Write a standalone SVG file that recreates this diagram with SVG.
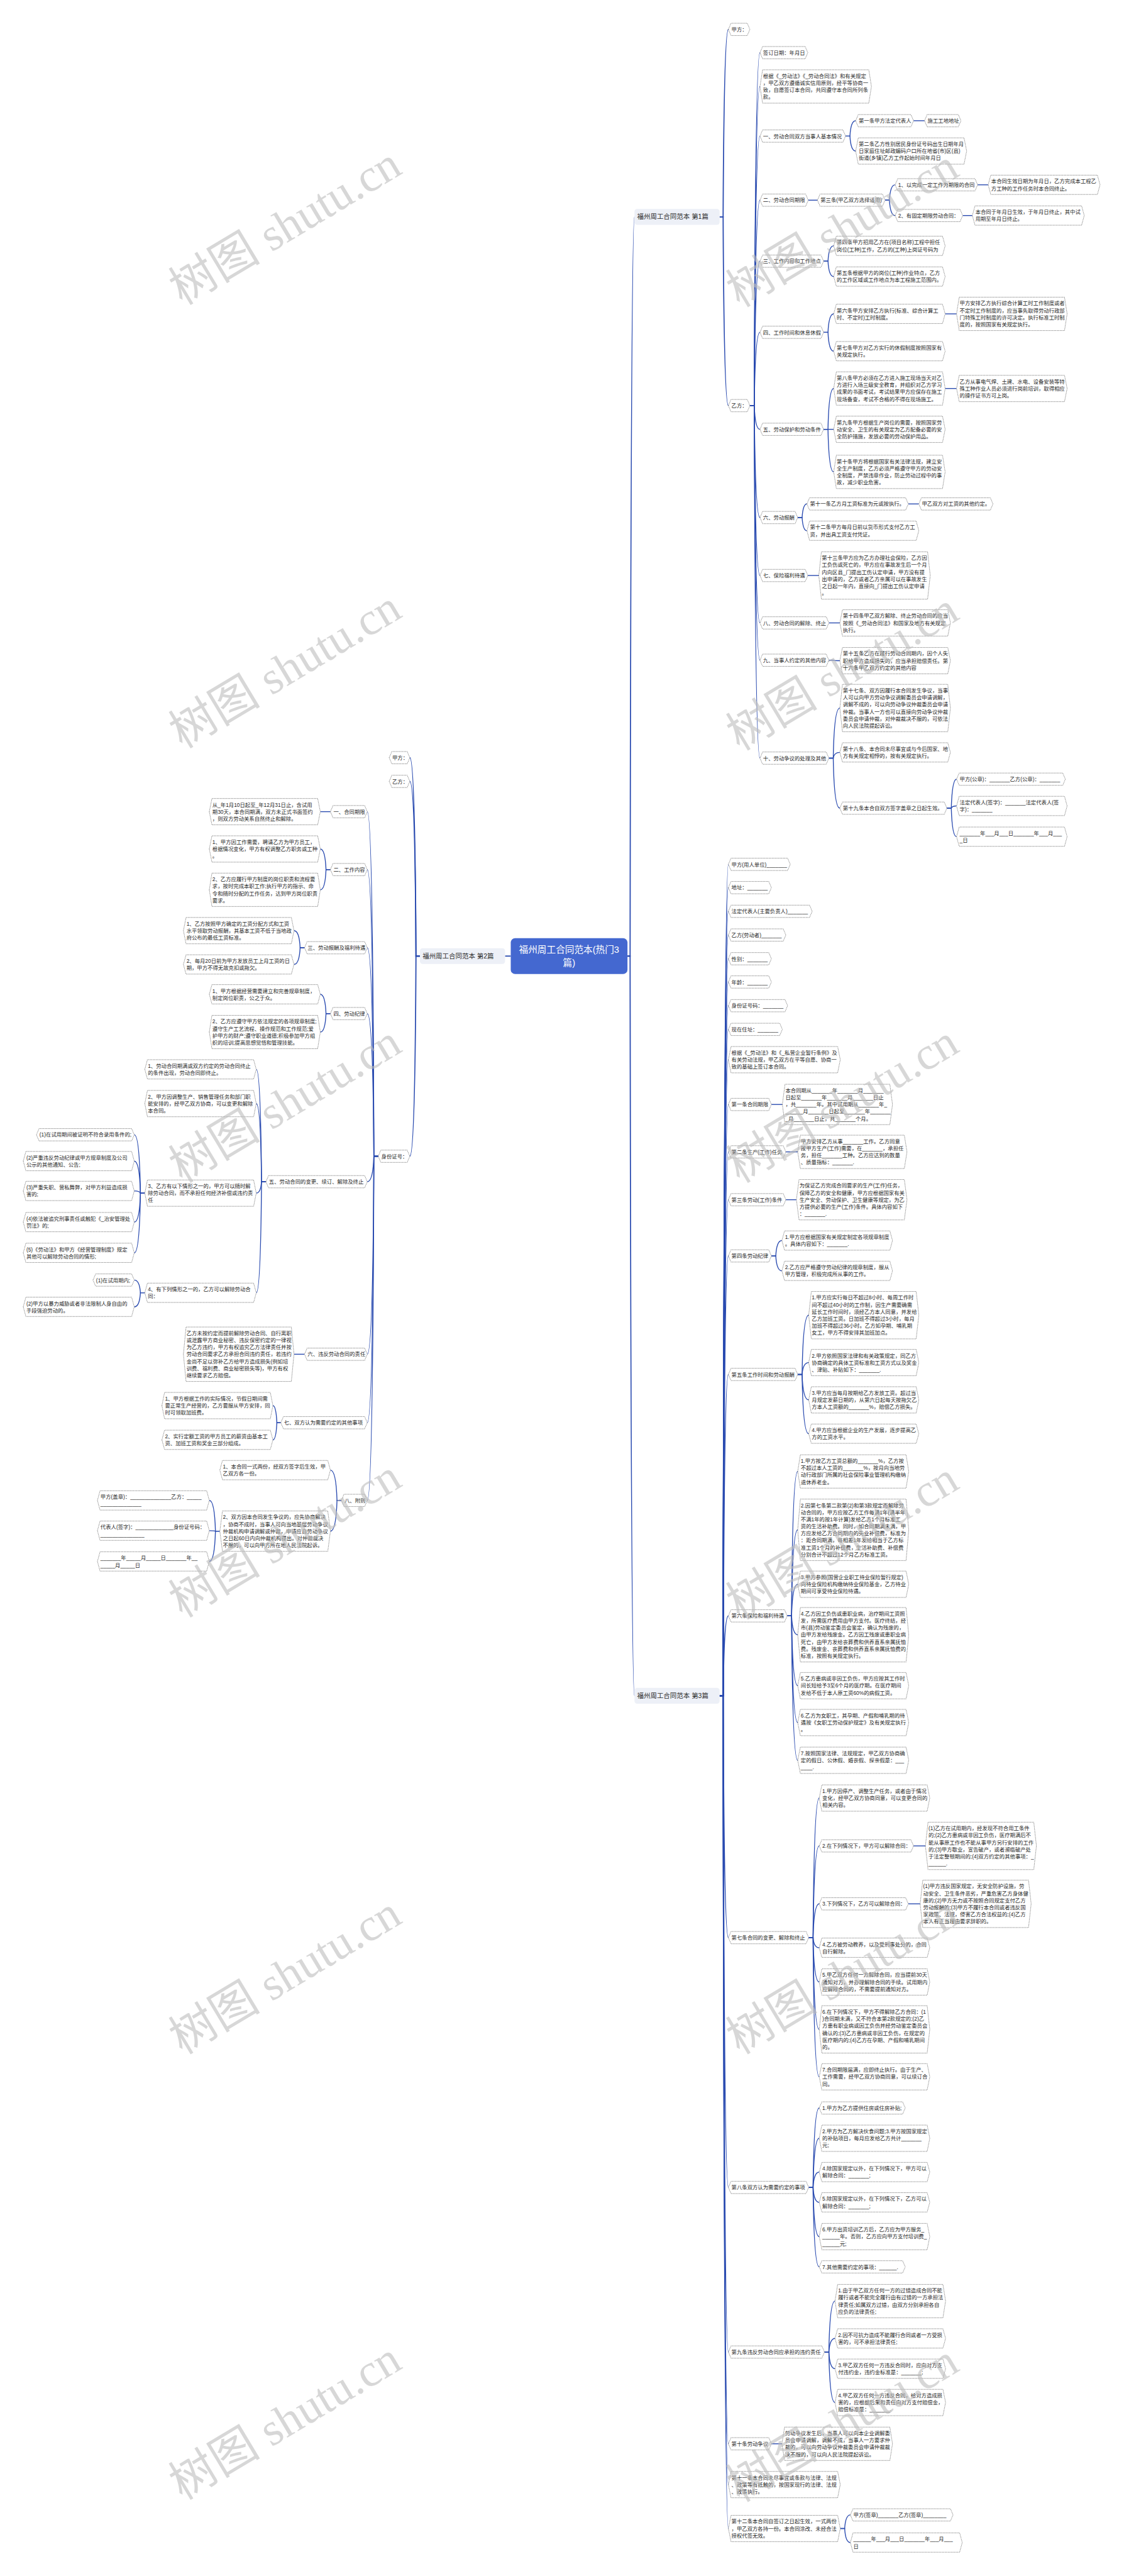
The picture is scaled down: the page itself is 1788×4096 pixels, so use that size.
<svg xmlns="http://www.w3.org/2000/svg" width="1788" height="4096" viewBox="0 0 1788 4096">
<style>
.n polygon{fill:#fff;stroke:#6b6b6b;stroke-width:1.2;stroke-dasharray:2 1.5}
text{font-family:"Liberation Sans","Noto Sans CJK SC",sans-serif;font-size:12px;fill:#262626}
.c path{fill:none;stroke:#2a4bb0;stroke-width:2}
.c path.t{stroke-width:2.6}
.lb rect{fill:#edf0f7}
.lb text{font-size:15px;fill:#2b2b2b}
.ct rect{fill:#4468d0}
.ct text{font-size:21px;fill:#fff;text-anchor:middle}
.wm text{font-family:"Liberation Serif","Noto Sans CJK SC",serif;font-size:105px;fill:#bdbdbd;fill-opacity:.6;text-anchor:middle}
</style>
<rect width="1788" height="4096" fill="#fff"/>
<g transform="scale(0.698)">
<g id="connectors" class="c">
<path class="t" d="M1430,2178 H1436 Q1438,494 1446,494"/>
<path class="t" d="M1430,2178 H1436 Q1438,3863 1446,3863"/>
<path class="t" d="M1164,2178 H1151"/>
<path class="t" d="M1640,494 H1648 Q1650,67 1660,67"/>
<path class="t" d="M1640,494 H1648 Q1650,924 1660,924"/>
<path d="M1709,924 H1719 Q1721,120 1732,120"/>
<path d="M1709,924 H1719 Q1721,197 1732,197"/>
<path d="M1709,924 H1719 Q1721,310 1732,310"/>
<path d="M1709,924 H1719 Q1721,456 1732,456"/>
<path d="M1709,924 H1719 Q1721,595 1732,595"/>
<path d="M1709,924 H1719 Q1721,757 1732,757"/>
<path d="M1709,924 H1719 Q1721,978 1732,978"/>
<path d="M1709,924 H1719 Q1721,1179 1732,1179"/>
<path d="M1709,924 H1719 Q1721,1311 1732,1311"/>
<path d="M1709,924 H1719 Q1721,1419 1732,1419"/>
<path d="M1709,924 H1719 Q1721,1504 1732,1504"/>
<path d="M1709,924 H1719 Q1721,1727 1732,1727"/>
<path d="M1927,310 H1937 Q1939,275 1950,275"/>
<path d="M1927,310 H1937 Q1939,344 1950,344"/>
<path d="M2082,275 H2107"/>
<path d="M1842,456 H1863"/>
<path d="M2017,456 H2027 Q2029,421 2040,421"/>
<path d="M2017,456 H2027 Q2029,491 2040,491"/>
<path d="M2228,421 H2252"/>
<path d="M2194,491 H2216"/>
<path d="M1877,595 H1887 Q1889,560 1900,560"/>
<path d="M1877,595 H1887 Q1889,630 1900,630"/>
<path d="M1877,757 H1887 Q1889,715 1900,715"/>
<path d="M1877,757 H1887 Q1889,800 1900,800"/>
<path d="M2154,715 H2180"/>
<path d="M1877,978 H1887 Q1889,885 1900,885"/>
<path d="M1877,978 H1900"/>
<path d="M1877,978 H1887 Q1889,1075 1900,1075"/>
<path d="M2154,885 H2180"/>
<path d="M1818,1179 H1828 Q1830,1148 1839,1148"/>
<path d="M1818,1179 H1828 Q1830,1209 1839,1209"/>
<path d="M2070,1148 H2094"/>
<path d="M1841,1311 H1866"/>
<path d="M1889,1419 H1914"/>
<path d="M1889,1504 H1899 Q1901,1505 1914,1505"/>
<path d="M1889,1727 H1899 Q1901,1613 1914,1613"/>
<path d="M1889,1727 H1899 Q1901,1714 1914,1714"/>
<path d="M1889,1727 H1899 Q1901,1841 1914,1841"/>
<path d="M2158,1841 H2168 Q2170,1775 2180,1775"/>
<path d="M2158,1841 H2168 Q2170,1836 2180,1836"/>
<path d="M2158,1841 H2168 Q2170,1906 2180,1906"/>
<path class="t" d="M957,2178 H948 Q946,1726 934,1726"/>
<path class="t" d="M957,2178 H948 Q946,1780 934,1780"/>
<path class="t" d="M957,2178 H948 Q946,2634 934,2634"/>
<path d="M862,2634 H852 Q850,1849 837,1849"/>
<path d="M862,2634 H852 Q850,1981 837,1981"/>
<path d="M862,2634 H852 Q850,2159 837,2159"/>
<path d="M862,2634 H852 Q850,2309 837,2309"/>
<path d="M862,2634 H852 Q850,2692 837,2692"/>
<path d="M862,2634 H852 Q850,3085 837,3085"/>
<path d="M862,2634 H852 Q850,3241 837,3241"/>
<path d="M862,2634 H852 Q850,3418 837,3418"/>
<path d="M753,1849 H730"/>
<path d="M753,1981 H743 Q741,1934 730,1934"/>
<path d="M753,1981 H743 Q741,2027 730,2027"/>
<path d="M694,2159 H684 Q682,2120 670,2120"/>
<path d="M694,2159 H684 Q682,2197 670,2197"/>
<path d="M753,2309 H743 Q741,2265 730,2265"/>
<path d="M753,2309 H743 Q741,2351 730,2351"/>
<path d="M606,2692 H596 Q594,2436 584,2436"/>
<path d="M606,2692 H596 Q594,2514 584,2514"/>
<path d="M606,2692 H596 Q594,2718 584,2718"/>
<path d="M606,2692 H596 Q594,2945 584,2945"/>
<path d="M330,2718 H320 Q318,2585 306,2585"/>
<path d="M330,2718 H320 Q318,2645 306,2645"/>
<path d="M330,2718 H320 Q318,2713 306,2713"/>
<path d="M330,2718 H320 Q318,2784 306,2784"/>
<path d="M330,2718 H320 Q318,2854 306,2854"/>
<path d="M330,2945 H320 Q318,2916 306,2916"/>
<path d="M330,2945 H320 Q318,2977 306,2977"/>
<path d="M694,3085 H670"/>
<path d="M640,3241 H631 Q629,3202 622,3202"/>
<path d="M640,3241 H631 Q629,3280 622,3280"/>
<path d="M778,3418 H768 Q766,3349 753,3349"/>
<path d="M778,3418 H768 Q766,3488 753,3488"/>
<path d="M501,3488 H491 Q489,3418 477,3418"/>
<path d="M501,3488 H491 Q489,3487 477,3487"/>
<path d="M501,3488 H491 Q489,3557 477,3557"/>
<path class="t" d="M1640,3863 H1648 Q1650,1969 1660,1969"/>
<path class="t" d="M1640,3863 H1648 Q1650,2022 1660,2022"/>
<path class="t" d="M1640,3863 H1648 Q1650,2076 1660,2076"/>
<path class="t" d="M1640,3863 H1648 Q1650,2130 1660,2130"/>
<path class="t" d="M1640,3863 H1648 Q1650,2184 1660,2184"/>
<path class="t" d="M1640,3863 H1648 Q1650,2237 1660,2237"/>
<path class="t" d="M1640,3863 H1648 Q1650,2291 1660,2291"/>
<path class="t" d="M1640,3863 H1648 Q1650,2345 1660,2345"/>
<path class="t" d="M1640,3863 H1648 Q1650,2414 1660,2414"/>
<path class="t" d="M1640,3863 H1648 Q1650,2516 1660,2516"/>
<path class="t" d="M1640,3863 H1648 Q1650,2624 1660,2624"/>
<path class="t" d="M1640,3863 H1648 Q1650,2733 1660,2733"/>
<path class="t" d="M1640,3863 H1648 Q1650,2861 1660,2861"/>
<path class="t" d="M1640,3863 H1648 Q1650,3131 1660,3131"/>
<path class="t" d="M1640,3863 H1648 Q1650,3681 1660,3681"/>
<path class="t" d="M1640,3863 H1648 Q1650,4414 1660,4414"/>
<path class="t" d="M1640,3863 H1648 Q1650,4983 1660,4983"/>
<path class="t" d="M1640,3863 H1648 Q1650,5358 1660,5358"/>
<path class="t" d="M1640,3863 H1648 Q1650,5567 1660,5567"/>
<path class="t" d="M1640,3863 H1648 Q1650,5660 1660,5660"/>
<path class="t" d="M1640,3863 H1648 Q1650,5760 1660,5760"/>
<path d="M1758,2516 H1783"/>
<path d="M1791,2624 H1818"/>
<path d="M1791,2733 H1815"/>
<path d="M1758,2861 H1768 Q1770,2826 1782,2826"/>
<path d="M1758,2861 H1768 Q1770,2895 1782,2895"/>
<path d="M1818,3131 H1828 Q1830,2996 1843,2996"/>
<path d="M1818,3131 H1828 Q1830,3104 1843,3104"/>
<path d="M1818,3131 H1828 Q1830,3189 1843,3189"/>
<path d="M1818,3131 H1828 Q1830,3266 1843,3266"/>
<path d="M1794,3681 H1804 Q1806,3352 1818,3352"/>
<path d="M1794,3681 H1804 Q1806,3485 1818,3485"/>
<path d="M1794,3681 H1804 Q1806,3609 1818,3609"/>
<path d="M1794,3681 H1804 Q1806,3724 1818,3724"/>
<path d="M1794,3681 H1804 Q1806,3840 1818,3840"/>
<path d="M1794,3681 H1804 Q1806,3924 1818,3924"/>
<path d="M1794,3681 H1804 Q1806,4010 1818,4010"/>
<path d="M1843,4414 H1853 Q1855,4096 1867,4096"/>
<path d="M1843,4414 H1853 Q1855,4205 1867,4205"/>
<path d="M1843,4414 H1853 Q1855,4337 1867,4337"/>
<path d="M1843,4414 H1853 Q1855,4437 1867,4437"/>
<path d="M1843,4414 H1853 Q1855,4515 1867,4515"/>
<path d="M1843,4414 H1853 Q1855,4623 1867,4623"/>
<path d="M1843,4414 H1853 Q1855,4731 1867,4731"/>
<path d="M2082,4205 H2109"/>
<path d="M2070,4337 H2097"/>
<path d="M1843,4983 H1853 Q1855,4802 1867,4802"/>
<path d="M1843,4983 H1853 Q1855,4871 1867,4871"/>
<path d="M1843,4983 H1853 Q1855,4948 1867,4948"/>
<path d="M1843,4983 H1853 Q1855,5017 1867,5017"/>
<path d="M1843,4983 H1853 Q1855,5095 1867,5095"/>
<path d="M1843,4983 H1853 Q1855,5164 1867,5164"/>
<path d="M1879,5358 H1889 Q1891,5242 1903,5242"/>
<path d="M1879,5358 H1889 Q1891,5327 1903,5327"/>
<path d="M1879,5358 H1889 Q1891,5396 1903,5396"/>
<path d="M1879,5358 H1889 Q1891,5473 1903,5473"/>
<path d="M1758,5567 H1782"/>
<path d="M1915,5760 H1925 Q1927,5729 1938,5729"/>
<path d="M1915,5760 H1925 Q1927,5792 1938,5792"/>
</g>

<g id="center" class="ct"><rect x="1164" y="2137" width="266" height="82" rx="10"/><text x="1297" y="2170">福州周工合同范本(热门3<tspan x="1297" dy="30">篇)</tspan></text></g>
<g id="label1" class="lb"><rect x="1446" y="476" width="194" height="36" rx="6"/><text x="1452" y="499">福州周工合同范本 第1篇</text></g>
<g id="label2" class="lb"><rect x="957" y="2160" width="194" height="36" rx="6"/><text x="963" y="2183">福州周工合同范本 第2篇</text></g>
<g id="label3" class="lb"><rect x="1446" y="3845" width="194" height="36" rx="6"/><text x="1452" y="3868">福州周工合同范本 第3篇</text></g>

<g class="n">
<g id="A1"><polygon points="1660,67 1666,53 1703,53 1709,67 1703,81 1666,81"/><text x="1667" y="71.5">甲方：</text></g>
<g id="A2"><polygon points="1660,924 1666,910 1703,910 1709,924 1703,938 1666,938"/><text x="1667" y="928.5">乙方：</text></g>
<g id="B1"><polygon points="1732,120 1738,106 1835,106 1841,120 1835,134 1738,134"/><text x="1739" y="124.5">签订日期：年月日</text></g>
<g id="B2"><polygon points="1732,197 1738,159 1980,159 1986,197 1980,235 1738,235"/><text x="1739" y="177.5">根据《_劳动法》《_劳动合同法》和有关规定<tspan x="1739" dy="16">，甲乙双方遵循诚实信用原则，经平等协商一</tspan><tspan x="1739" dy="16">致，自愿签订本合同，共同遵守本合同所列条</tspan><tspan x="1739" dy="16">款。</tspan></text></g>
<g id="B3"><polygon points="1732,310 1738,296 1921,296 1927,310 1921,324 1738,324"/><text x="1739" y="314.5">一、劳动合同双方当事人基本情况</text></g>
<g id="C1"><polygon points="1950,275 1956,261 2076,261 2082,275 2076,289 1956,289"/><text x="1957" y="279.5">第一条甲方法定代表人</text></g>
<g id="D1"><polygon points="2107,275 2113,261 2184,261 2190,275 2184,289 2113,289"/><text x="2114" y="279.5">施工工地地址</text></g>
<g id="C2"><polygon points="1950,344 1956,314 2197,314 2203,344 2197,374 1956,374"/><text x="1957" y="332.5">第二条乙方性别居民身份证号码出生日期年月<tspan x="1957" dy="16">日家庭住址邮政编码户口所在地省(市)区(县)</tspan><tspan x="1957" dy="16">街道(乡镇)乙方工作起始时间年月日</tspan></text></g>
<g id="B4"><polygon points="1732,456 1738,442 1836,442 1842,456 1836,470 1738,470"/><text x="1739" y="460.5">二、劳动合同期限</text></g>
<g id="C3"><polygon points="1863,456 1869,442 2011,442 2017,456 2011,470 1869,470"/><text x="1870" y="460.5">第三条(甲乙双方选择适用)</text></g>
<g id="D2"><polygon points="2040,421 2046,407 2222,407 2228,421 2222,435 2046,435"/><text x="2047" y="425.5">1、以完成一定工作为期限的合同</text></g>
<g id="E1"><polygon points="2252,421 2258,399 2501,399 2507,421 2501,443 2258,443"/><text x="2259" y="417.5">本合同生效日期为年月日，乙方完成本工程乙<tspan x="2259" dy="16">方工种的工作任务时本合同终止。</tspan></text></g>
<g id="D3"><polygon points="2040,491 2046,477 2188,477 2194,491 2188,505 2046,505"/><text x="2047" y="495.5">2、有固定期限劳动合同：</text></g>
<g id="E2"><polygon points="2216,491 2222,469 2465,469 2471,491 2465,513 2222,513"/><text x="2223" y="487.5">本合同于年月日生效，于年月日终止，其中试<tspan x="2223" dy="16">用期至年月日终止。</tspan></text></g>
<g id="B5"><polygon points="1732,595 1738,581 1871,581 1877,595 1871,609 1738,609"/><text x="1739" y="599.5">三、工作内容和工作地点</text></g>
<g id="C4"><polygon points="1900,560 1906,538 2148,538 2154,560 2148,582 1906,582"/><text x="1907" y="556.5">第四条甲方招用乙方在(项目名称)工程中担任<tspan x="1907" dy="16">岗位(工种)工作，乙方的(工种)上岗证号码为</tspan></text></g>
<g id="C5"><polygon points="1900,630 1906,608 2148,608 2154,630 2148,652 1906,652"/><text x="1907" y="626.5">第五条根据甲方的岗位(工种)作业特点，乙方<tspan x="1907" dy="16">的工作区域或工作地点为本工程施工范围内。</tspan></text></g>
<g id="B6"><polygon points="1732,757 1738,743 1871,743 1877,757 1871,771 1738,771"/><text x="1739" y="761.5">四、工作时间和休息休假</text></g>
<g id="C6"><polygon points="1900,715 1906,693 2148,693 2154,715 2148,737 1906,737"/><text x="1907" y="711.5">第六条甲方安排乙方执行(标准、综合计算工<tspan x="1907" dy="16">时、不定时)工时制度。</tspan></text></g>
<g id="D4"><polygon points="2180,715 2186,677 2426,677 2432,715 2426,753 2186,753"/><text x="2187" y="695.5">甲方安排乙方执行综合计算工时工作制度或者<tspan x="2187" dy="16">不定时工作制度的，应当事先取得劳动行政部</tspan><tspan x="2187" dy="16">门特殊工时制度的许可决定。执行标准工时制</tspan><tspan x="2187" dy="16">度的，按照国家有关规定执行。</tspan></text></g>
<g id="C7"><polygon points="1900,800 1906,778 2148,778 2154,800 2148,822 1906,822"/><text x="1907" y="796.5">第七条甲方对乙方实行的休假制度按照国家有<tspan x="1907" dy="16">关规定执行。</tspan></text></g>
<g id="B7"><polygon points="1732,978 1738,964 1871,964 1877,978 1871,992 1738,992"/><text x="1739" y="982.5">五、劳动保护和劳动条件</text></g>
<g id="C8"><polygon points="1900,885 1906,847 2148,847 2154,885 2148,923 1906,923"/><text x="1907" y="865.5">第八条甲方必须在乙方进入施工现场当天对乙<tspan x="1907" dy="16">方进行入场三级安全教育，并组织对乙方学习</tspan><tspan x="1907" dy="16">成果的书面考试，考试结果甲方应保存在施工</tspan><tspan x="1907" dy="16">现场备查，考试不合格的不得在现场施工。</tspan></text></g>
<g id="D5"><polygon points="2180,885 2186,855 2426,855 2432,885 2426,915 2186,915"/><text x="2187" y="873.5">乙方从事电气焊、土建、水电、设备安装等特<tspan x="2187" dy="16">殊工种作业人员必须进行岗前培训，取得相应</tspan><tspan x="2187" dy="16">的操作证书方可上岗。</tspan></text></g>
<g id="C9"><polygon points="1900,978 1906,948 2148,948 2154,978 2148,1008 1906,1008"/><text x="1907" y="966.5">第九条甲方根据生产岗位的需要，按照国家劳<tspan x="1907" dy="16">动安全、卫生的有关规定为乙方配备必要的安</tspan><tspan x="1907" dy="16">全防护措施，发放必要的劳动保护用品。</tspan></text></g>
<g id="C10"><polygon points="1900,1075 1906,1037 2148,1037 2154,1075 2148,1113 1906,1113"/><text x="1907" y="1055.5">第十条甲方将根据国家有关法律法规，建立安<tspan x="1907" dy="16">全生产制度，乙方必须严格遵守甲方的劳动安</tspan><tspan x="1907" dy="16">全制度，严禁违章作业，防止劳动过程中的事</tspan><tspan x="1907" dy="16">故，减少职业危害。</tspan></text></g>
<g id="B8"><polygon points="1732,1179 1738,1165 1812,1165 1818,1179 1812,1193 1738,1193"/><text x="1739" y="1183.5">六、劳动报酬</text></g>
<g id="C11"><polygon points="1839,1148 1845,1134 2064,1134 2070,1148 2064,1162 1845,1162"/><text x="1846" y="1152.5">第十一条乙方月工资标准为元或按执行。</text></g>
<g id="D6"><polygon points="2094,1148 2100,1134 2257,1134 2263,1148 2257,1162 2100,1162"/><text x="2101" y="1152.5">甲乙双方对工资的其他约定。</text></g>
<g id="C12"><polygon points="1839,1209 1845,1187 2088,1187 2094,1209 2088,1231 1845,1231"/><text x="1846" y="1205.5">第十二条甲方每月日前以货币形式支付乙方工<tspan x="1846" dy="16">资，并出具工资支付凭证。</tspan></text></g>
<g id="B9"><polygon points="1732,1311 1738,1297 1835,1297 1841,1311 1835,1325 1738,1325"/><text x="1739" y="1315.5">七、保险福利待遇</text></g>
<g id="C13"><polygon points="1866,1311 1872,1257 2114,1257 2120,1311 2114,1365 1872,1365"/><text x="1873" y="1275.5">第十三条甲方应为乙方办理社会保险，乙方因<tspan x="1873" dy="16">工负伤或死亡的，甲方应在事故发生后一个月</tspan><tspan x="1873" dy="16">内向区县_门提出工伤认定申请，甲方没有提</tspan><tspan x="1873" dy="16">出申请的，乙方或者乙方亲属可以在事故发生</tspan><tspan x="1873" dy="16">之日起一年内，直接向_门提出工伤认定申请</tspan><tspan x="1873" dy="16">。</tspan></text></g>
<g id="B10"><polygon points="1732,1419 1738,1405 1883,1405 1889,1419 1883,1433 1738,1433"/><text x="1739" y="1423.5">八、劳动合同的解除、终止</text></g>
<g id="C14"><polygon points="1914,1419 1920,1389 2160,1389 2166,1419 2160,1449 1920,1449"/><text x="1921" y="1407.5">第十四条甲乙双方解除、终止劳动合同的应当<tspan x="1921" dy="16">按照《_劳动合同法》和国家及地方有关规定</tspan><tspan x="1921" dy="16">执行。</tspan></text></g>
<g id="B11"><polygon points="1732,1504 1738,1490 1883,1490 1889,1504 1883,1518 1738,1518"/><text x="1739" y="1508.5">九、当事人约定的其他内容</text></g>
<g id="C15"><polygon points="1914,1505 1920,1475 2160,1475 2166,1505 2160,1535 1920,1535"/><text x="1921" y="1493.5">第十五条乙方在履行劳动合同期内，因个人失<tspan x="1921" dy="16">职给甲方造成损失的，应当承担赔偿责任。第</tspan><tspan x="1921" dy="16">十六条甲乙双方约定的其他内容</tspan></text></g>
<g id="B12"><polygon points="1732,1727 1738,1713 1883,1713 1889,1727 1883,1741 1738,1741"/><text x="1739" y="1731.5">十、劳动争议的处理及其他</text></g>
<g id="C16"><polygon points="1914,1613 1920,1559 2160,1559 2166,1613 2160,1667 1920,1667"/><text x="1921" y="1577.5">第十七条、双方因履行本合同发生争议，当事<tspan x="1921" dy="16">人可以向甲方劳动争议调解委员会申请调解，</tspan><tspan x="1921" dy="16">调解不成的，可以向劳动争议仲裁委员会申请</tspan><tspan x="1921" dy="16">仲裁。当事人一方也可以直接向劳动争议仲裁</tspan><tspan x="1921" dy="16">委员会申请仲裁，对仲裁裁决不服的，可依法</tspan><tspan x="1921" dy="16">向人民法院提起诉讼。</tspan></text></g>
<g id="C17"><polygon points="1914,1714 1920,1692 2160,1692 2166,1714 2160,1736 1920,1736"/><text x="1921" y="1710.5">第十八条、本合同未尽事宜或与今后国家、地<tspan x="1921" dy="16">方有关规定相悖的，按有关规定执行。</tspan></text></g>
<g id="C18"><polygon points="1914,1841 1920,1827 2152,1827 2158,1841 2152,1855 1920,1855"/><text x="1921" y="1845.5">第十九条本合自双方签字盖章之日起生效。</text></g>
<g id="D7"><polygon points="2180,1775 2186,1761 2422,1761 2428,1775 2422,1789 2186,1789"/><text x="2187" y="1779.5">甲方(公章)：_______乙方(公章)：_______</text></g>
<g id="D8"><polygon points="2180,1836 2186,1814 2426,1814 2432,1836 2426,1858 2186,1858"/><text x="2187" y="1832.5">法定代表人(签字)：_______法定代表人(签<tspan x="2187" dy="16">字)：_______</tspan></text></g>
<g id="D9"><polygon points="2180,1906 2186,1884 2426,1884 2432,1906 2426,1928 2186,1928"/><text x="2187" y="1902.5">_______年___月___日_______年___月___<tspan x="2187" dy="16">_日</tspan></text></g>

<g id="F1"><polygon points="887,1726 893,1712 928,1712 934,1726 928,1740 893,1740"/><text x="894" y="1730.5">甲方：</text></g>
<g id="F2"><polygon points="887,1780 893,1766 928,1766 934,1780 928,1794 893,1794"/><text x="894" y="1784.5">乙方：</text></g>
<g id="F3"><polygon points="862,2634 868,2620 928,2620 934,2634 928,2648 868,2648"/><text x="869" y="2638.5">身份证号：</text></g>
<g id="G1"><polygon points="753,1849 759,1835 831,1835 837,1849 831,1863 759,1863"/><text x="760" y="1853.5">一、合同期限</text></g>
<g id="H1"><polygon points="477,1849 483,1819 724,1819 730,1849 724,1879 483,1879"/><text x="484" y="1837.5">从_年1月10日起至_年12月31日止，含试用<tspan x="484" dy="16">期30天，本合同期满，双方未正式书面签约</tspan><tspan x="484" dy="16">，则双方劳动关系自然终止和解除。</tspan></text></g>
<g id="G2"><polygon points="753,1981 759,1967 831,1967 837,1981 831,1995 759,1995"/><text x="760" y="1985.5">二、工作内容</text></g>
<g id="H2"><polygon points="477,1934 483,1904 724,1904 730,1934 724,1964 483,1964"/><text x="484" y="1922.5">1、甲方因工作需要，聘请乙方为甲方员工，<tspan x="484" dy="16">根据情况变化，甲方有权调整乙方职务或工种</tspan><tspan x="484" dy="16">。</tspan></text></g>
<g id="H3"><polygon points="477,2027 483,1989 724,1989 730,2027 724,2065 483,2065"/><text x="484" y="2007.5">2、乙方应履行甲方制度的岗位职责和流程要<tspan x="484" dy="16">求，按时完成本职工作;执行甲方的指示、命</tspan><tspan x="484" dy="16">令和随时分配的工作任务，达到甲方岗位职责</tspan><tspan x="484" dy="16">要求。</tspan></text></g>
<g id="G3"><polygon points="694,2159 700,2145 831,2145 837,2159 831,2173 700,2173"/><text x="701" y="2163.5">三、劳动报酬及福利待遇</text></g>
<g id="H4"><polygon points="418,2120 424,2090 664,2090 670,2120 664,2150 424,2150"/><text x="425" y="2108.5">1、乙方按照甲方确定的工资分配方式和工资<tspan x="425" dy="16">水平领取劳动报酬，其基本工资不低于当地政</tspan><tspan x="425" dy="16">府公布的最低工资标准。</tspan></text></g>
<g id="H5"><polygon points="418,2197 424,2175 664,2175 670,2197 664,2219 424,2219"/><text x="425" y="2193.5">2、每月20日前为甲方发放员工上月工资的日<tspan x="425" dy="16">期，甲方不得无故克扣或拖欠。</tspan></text></g>
<g id="G4"><polygon points="753,2309 759,2295 831,2295 837,2309 831,2323 759,2323"/><text x="760" y="2313.5">四、劳动纪律</text></g>
<g id="H6"><polygon points="477,2265 483,2243 724,2243 730,2265 724,2287 483,2287"/><text x="484" y="2261.5">1、甲方根据经营需要建立和完善规章制度，<tspan x="484" dy="16">制定岗位职责，公之于众。</tspan></text></g>
<g id="H7"><polygon points="477,2351 483,2313 724,2313 730,2351 724,2389 483,2389"/><text x="484" y="2331.5">2、乙方应遵守甲方依法规定的各项规章制度;<tspan x="484" dy="16">遵守生产工艺流程、操作规范和工作规范;爱</tspan><tspan x="484" dy="16">护甲方的财产;遵守职业道德;积极参加甲方组</tspan><tspan x="484" dy="16">织的培训;提高思想觉悟和管理技能。</tspan></text></g>
<g id="G5"><polygon points="606,2692 612,2678 831,2678 837,2692 831,2706 612,2706"/><text x="613" y="2696.5">五、劳动合同的变更、续订、解除及终止</text></g>
<g id="H8"><polygon points="330,2436 336,2414 578,2414 584,2436 578,2458 336,2458"/><text x="337" y="2432.5">1、劳动合同期满或双方约定的劳动合同终止<tspan x="337" dy="16">的条件出现，劳动合同即终止。</tspan></text></g>
<g id="H9"><polygon points="330,2514 336,2484 578,2484 584,2514 578,2544 336,2544"/><text x="337" y="2502.5">2、甲方因调整生产、销售管理任务和部门职<tspan x="337" dy="16">能安排的，经甲乙双方协商，可以变更和解除</tspan><tspan x="337" dy="16">本合同。</tspan></text></g>
<g id="H10"><polygon points="330,2718 336,2688 578,2688 584,2718 578,2748 336,2748"/><text x="337" y="2706.5">3、乙方有以下情形之一的，甲方可以随时解<tspan x="337" dy="16">除劳动合同，而不承担任何经济补偿或违约责</tspan><tspan x="337" dy="16">任</tspan></text></g>
<g id="I1"><polygon points="83,2585 89,2571 300,2571 306,2585 300,2599 89,2599"/><text x="90" y="2589.5">(1)在试用期间被证明不符合录用条件的;</text></g>
<g id="I2"><polygon points="53,2645 59,2623 300,2623 306,2645 300,2667 59,2667"/><text x="60" y="2641.5">(2)严重违反劳动纪律或甲方规章制度及公司<tspan x="60" dy="16">公示的其他通知、公告;</tspan></text></g>
<g id="I3"><polygon points="53,2713 59,2691 300,2691 306,2713 300,2735 59,2735"/><text x="60" y="2709.5">(3)严重失职、营私舞弊，对甲方利益造成损<tspan x="60" dy="16">害的;</tspan></text></g>
<g id="I4"><polygon points="53,2784 59,2762 300,2762 306,2784 300,2806 59,2806"/><text x="60" y="2780.5">(4)依法被追究刑事责任或触犯《_治安管理处<tspan x="60" dy="16">罚法》的;</tspan></text></g>
<g id="I5"><polygon points="53,2854 59,2832 300,2832 306,2854 300,2876 59,2876"/><text x="60" y="2850.5">(5)《劳动法》和甲方《经营管理制度》规定<tspan x="60" dy="16">其他可以解除劳动合同的情形;</tspan></text></g>
<g id="H11"><polygon points="330,2945 336,2923 578,2923 584,2945 578,2967 336,2967"/><text x="337" y="2941.5">4、有下列情形之一的，乙方可以解除劳动合<tspan x="337" dy="16">同：</tspan></text></g>
<g id="I6"><polygon points="212,2916 218,2902 300,2902 306,2916 300,2930 218,2930"/><text x="219" y="2920.5">(1)在试用期内;</text></g>
<g id="I7"><polygon points="53,2977 59,2955 300,2955 306,2977 300,2999 59,2999"/><text x="60" y="2973.5">(2)甲方以暴力威胁或者非法限制人身自由的<tspan x="60" dy="16">手段强迫劳动的。</tspan></text></g>
<g id="G6"><polygon points="694,3085 700,3071 831,3071 837,3085 831,3099 700,3099"/><text x="701" y="3089.5">六、违反劳动合同的责任</text></g>
<g id="H12"><polygon points="418,3085 424,3023 664,3023 670,3085 664,3147 424,3147"/><text x="425" y="3041.5">乙方未按约定而提前解除劳动合同、自行离职<tspan x="425" dy="16">或泄露甲方商业秘密、违反保密约定的一律视</tspan><tspan x="425" dy="16">为乙方违约，甲方有权追究乙方法律责任并按</tspan><tspan x="425" dy="16">劳动合同要求乙方承担合同违约责任，若违约</tspan><tspan x="425" dy="16">金尚不足以弥补乙方给甲方造成损失(例如培</tspan><tspan x="425" dy="16">训费、福利费、商业秘密损失等)，甲方有权</tspan><tspan x="425" dy="16">继续要求乙方赔偿。</tspan></text></g>
<g id="G7"><polygon points="640,3241 646,3227 831,3227 837,3241 831,3255 646,3255"/><text x="647" y="3245.5">七、双方认为需要约定的其他事项</text></g>
<g id="H13"><polygon points="369,3202 375,3172 616,3172 622,3202 616,3232 375,3232"/><text x="376" y="3190.5">1、甲方根据工作的实际情况，节假日期间需<tspan x="376" dy="16">要正常生产经营的，乙方要服从甲方安排，同</tspan><tspan x="376" dy="16">时可领取加班费。</tspan></text></g>
<g id="H14"><polygon points="369,3280 375,3258 616,3258 622,3280 616,3302 375,3302"/><text x="376" y="3276.5">2、实行定额工资的甲方员工的薪资由基本工<tspan x="376" dy="16">资、加班工资和奖金三部分组成。</tspan></text></g>
<g id="G8"><polygon points="778,3418 784,3404 831,3404 837,3418 831,3432 784,3432"/><text x="785" y="3422.5">八、附则</text></g>
<g id="H15"><polygon points="501,3349 507,3327 747,3327 753,3349 747,3371 507,3371"/><text x="508" y="3345.5">1、本合同一式两份，经双方签字后生效，甲<tspan x="508" dy="16">乙双方各一份。</tspan></text></g>
<g id="H16"><polygon points="501,3488 507,3442 747,3442 753,3488 747,3534 507,3534"/><text x="508" y="3460.5">2、双方因本合同发生争议的，应先协商解决<tspan x="508" dy="16">，协商不成时，当事人可向当地基层劳动争议</tspan><tspan x="508" dy="16">仲裁机构申请调解或仲裁，申请应自劳动争议</tspan><tspan x="508" dy="16">之日起60日内向仲裁机构提出。对仲裁裁决</tspan><tspan x="508" dy="16">不服的，可以向甲方所在地人民法院起诉。</tspan></text></g>
<g id="I8"><polygon points="222,3418 228,3396 471,3396 477,3418 471,3440 228,3440"/><text x="229" y="3414.5">甲方(盖章)：______________乙方：_____<tspan x="229" dy="16">______________</tspan></text></g>
<g id="I9"><polygon points="222,3487 228,3465 471,3465 477,3487 471,3509 228,3509"/><text x="229" y="3483.5">代表人(签字)：_____________身份证号码：<tspan x="229" dy="16">_______________</tspan></text></g>
<g id="I10"><polygon points="222,3557 228,3535 471,3535 477,3557 471,3579 228,3579"/><text x="229" y="3553.5">_______年_____月_____日_______年__<tspan x="229" dy="16">_____月_____日</tspan></text></g>

<g id="J1"><polygon points="1660,1969 1666,1955 1795,1955 1801,1969 1795,1983 1666,1983"/><text x="1667" y="1973.5">甲方(用人单位)_______</text></g>
<g id="J2"><polygon points="1660,2022 1666,2008 1752,2008 1758,2022 1752,2036 1666,2036"/><text x="1667" y="2026.5">地址：_______</text></g>
<g id="J3"><polygon points="1660,2076 1666,2062 1845,2062 1851,2076 1845,2090 1666,2090"/><text x="1667" y="2080.5">法定代表人(主要负责人)_______</text></g>
<g id="J4"><polygon points="1660,2130 1666,2116 1785,2116 1791,2130 1785,2144 1666,2144"/><text x="1667" y="2134.5">乙方(劳动者)_______</text></g>
<g id="J5"><polygon points="1660,2184 1666,2170 1752,2170 1758,2184 1752,2198 1666,2198"/><text x="1667" y="2188.5">性别：_______</text></g>
<g id="J6"><polygon points="1660,2237 1666,2223 1752,2223 1758,2237 1752,2251 1666,2251"/><text x="1667" y="2241.5">年龄：_______</text></g>
<g id="J7"><polygon points="1660,2291 1666,2277 1789,2277 1795,2291 1789,2305 1666,2305"/><text x="1667" y="2295.5">身份证号码：_______</text></g>
<g id="J8"><polygon points="1660,2345 1666,2331 1777,2331 1783,2345 1777,2359 1666,2359"/><text x="1667" y="2349.5">现在住址：_______</text></g>
<g id="J9"><polygon points="1660,2414 1666,2384 1909,2384 1915,2414 1909,2444 1666,2444"/><text x="1667" y="2402.5">根据《_劳动法》和《_私营企业暂行条例》及<tspan x="1667" dy="16">有关劳动法规，甲乙双方在平等自愿、协商一</tspan><tspan x="1667" dy="16">致的基础上签订本合同。</tspan></text></g>
<g id="J10"><polygon points="1660,2516 1666,2502 1752,2502 1758,2516 1752,2530 1666,2530"/><text x="1667" y="2520.5">第一条合同期限</text></g>
<g id="K1"><polygon points="1783,2516 1789,2470 2028,2470 2034,2516 2028,2562 1789,2562"/><text x="1790" y="2488.5">本合同期从_______年_______月_______<tspan x="1790" dy="16">日起至_______年_______月_______日止</tspan><tspan x="1790" dy="16">，共_______年。其中试用期从_______年_</tspan><tspan x="1790" dy="16">______月_______日起至_______年_______</tspan><tspan x="1790" dy="16">_月_______日止，共_______个月。</tspan></text></g>
<g id="J11"><polygon points="1660,2624 1666,2610 1785,2610 1791,2624 1785,2638 1666,2638"/><text x="1667" y="2628.5">第二条生产(工作)任务</text></g>
<g id="K2"><polygon points="1818,2624 1824,2586 2061,2586 2067,2624 2061,2662 1824,2662"/><text x="1825" y="2604.5">甲方安排乙方从事_______工作。乙方同意<tspan x="1825" dy="16">按甲方生产(工作)需要，在_______，承担任</tspan><tspan x="1825" dy="16">务，担任_______工种。乙方应达到的数量</tspan><tspan x="1825" dy="16">、质量指标：_______.</tspan></text></g>
<g id="J12"><polygon points="1660,2733 1666,2719 1785,2719 1791,2733 1785,2747 1666,2747"/><text x="1667" y="2737.5">第三条劳动(工作)条件</text></g>
<g id="K3"><polygon points="1815,2733 1821,2687 2061,2687 2067,2733 2061,2779 1821,2779"/><text x="1822" y="2705.5">为保证乙方完成合同要求的生产(工作)任务，<tspan x="1822" dy="16">保障乙方的安全和健康，甲方应根据国家有关</tspan><tspan x="1822" dy="16">生产安全、劳动保护、卫生健康等规定，为乙</tspan><tspan x="1822" dy="16">方提供必要的生产(工作)条件。具体内容如下</tspan><tspan x="1822" dy="16">：_______.</tspan></text></g>
<g id="J13"><polygon points="1660,2861 1666,2847 1752,2847 1758,2861 1752,2875 1666,2875"/><text x="1667" y="2865.5">第四条劳动纪律</text></g>
<g id="K4"><polygon points="1782,2826 1788,2804 2028,2804 2034,2826 2028,2848 1788,2848"/><text x="1789" y="2822.5">1.甲方应根据国家有关规定制定各项规章制度<tspan x="1789" dy="16">。具体内容如下：_______.</tspan></text></g>
<g id="K5"><polygon points="1782,2895 1788,2873 2028,2873 2034,2895 2028,2917 1788,2917"/><text x="1789" y="2891.5">2.乙方应严格遵守劳动纪律的规章制度，服从<tspan x="1789" dy="16">甲方管理，积极完成所从事的工作。</tspan></text></g>
<g id="J14"><polygon points="1660,3131 1666,3117 1812,3117 1818,3131 1812,3145 1666,3145"/><text x="1667" y="3135.5">第五条工作时间和劳动报酬</text></g>
<g id="K6"><polygon points="1843,2996 1849,2942 2088,2942 2094,2996 2088,3050 1849,3050"/><text x="1850" y="2960.5">1.甲方应实行每日不超过8小时、每周工作时<tspan x="1850" dy="16">间不超过40小时的工作制，因生产需要确需</tspan><tspan x="1850" dy="16">延长工作时间时，须经乙方本人同意，并发给</tspan><tspan x="1850" dy="16">乙方加班工资。日加班不得超过3小时，每月</tspan><tspan x="1850" dy="16">加班不得超过36小时。乙方如孕期、哺乳期</tspan><tspan x="1850" dy="16">女工，甲方不得安排其加班加点。</tspan></text></g>
<g id="K7"><polygon points="1843,3104 1849,3074 2088,3074 2094,3104 2088,3134 1849,3134"/><text x="1850" y="3092.5">2.甲方依照国家法律和有关政策规定，同乙方<tspan x="1850" dy="16">协商确定的具体工资标准和工资方式以及奖金</tspan><tspan x="1850" dy="16">、津贴、补贴如下：_______.</tspan></text></g>
<g id="K8"><polygon points="1843,3189 1849,3159 2088,3159 2094,3189 2088,3219 1849,3219"/><text x="1850" y="3177.5">3.甲方应当每月按期给乙方发放工资。超过当<tspan x="1850" dy="16">月规定发薪日期的，从第六日起每天按拖欠乙</tspan><tspan x="1850" dy="16">方本人工资额的_______%，赔偿乙方损失。</tspan></text></g>
<g id="K9"><polygon points="1843,3266 1849,3244 2088,3244 2094,3266 2088,3288 1849,3288"/><text x="1850" y="3262.5">4.甲方应当根据企业的生产发展，逐步提高乙<tspan x="1850" dy="16">方的工资水平。</tspan></text></g>
<g id="J15"><polygon points="1660,3681 1666,3667 1788,3667 1794,3681 1788,3695 1666,3695"/><text x="1667" y="3685.5">第六条保险和福利待遇</text></g>
<g id="K10"><polygon points="1818,3352 1824,3314 2065,3314 2071,3352 2065,3390 1824,3390"/><text x="1825" y="3332.5">1.甲方按乙方工资总额的_______%，乙方按<tspan x="1825" dy="16">不超过本人工资的_______%，按月向当地劳</tspan><tspan x="1825" dy="16">动行政部门所属的社会保险事业管理机构缴纳</tspan><tspan x="1825" dy="16">退休养老金。</tspan></text></g>
<g id="K11"><polygon points="1818,3485 1824,3415 2065,3415 2071,3485 2065,3555 1824,3555"/><text x="1825" y="3433.5">2.因第七条第二款第(2)和第3款规定而解除劳<tspan x="1825" dy="16">动合同的，甲方应按乙方工作每满1年(满半年</tspan><tspan x="1825" dy="16">不满1年的按1年计算)发给乙方1个月标准工</tspan><tspan x="1825" dy="16">资的生活补助费。同时，如合同期满未满，甲</tspan><tspan x="1825" dy="16">方应发给乙方合同期内的失业补偿费，标准为</tspan><tspan x="1825" dy="16">：距合同期满，每相差1年发给相当于乙方标</tspan><tspan x="1825" dy="16">准工资1个月的补偿费，生活补助费、补偿费</tspan><tspan x="1825" dy="16">分别合计不超过12个月乙方标准工资。</tspan></text></g>
<g id="K12"><polygon points="1818,3609 1824,3579 2065,3579 2071,3609 2065,3639 1824,3639"/><text x="1825" y="3597.5">3.甲方参照(国营企业职工待业保险暂行规定)<tspan x="1825" dy="16">向待业保险机构缴纳待业保险基金，乙方待业</tspan><tspan x="1825" dy="16">期间可享受待业保险待遇。</tspan></text></g>
<g id="K13"><polygon points="1818,3724 1824,3662 2065,3662 2071,3724 2065,3786 1824,3786"/><text x="1825" y="3680.5">4.乙方因工负伤或患职业病，治疗期间工资照<tspan x="1825" dy="16">发，所需医疗费用由甲方支付。医疗终结，经</tspan><tspan x="1825" dy="16">市(县)劳动鉴定委员会鉴定，确认为残废的，</tspan><tspan x="1825" dy="16">由甲方发给残废金。乙方因工残废或患职业病</tspan><tspan x="1825" dy="16">死亡，由甲方发给丧葬费和供养直系亲属抚恤</tspan><tspan x="1825" dy="16">费。残废金、丧葬费和供养直系亲属抚恤费的</tspan><tspan x="1825" dy="16">标准，按照有关规定执行。</tspan></text></g>
<g id="K14"><polygon points="1818,3840 1824,3810 2065,3810 2071,3840 2065,3870 1824,3870"/><text x="1825" y="3828.5">5.乙方患病或非因工负伤，甲方应按其工作时<tspan x="1825" dy="16">间长短给予3至6个月的医疗期。在医疗期间</tspan><tspan x="1825" dy="16">发给不低于本人原工资60%的病假工资。</tspan></text></g>
<g id="K15"><polygon points="1818,3924 1824,3894 2065,3894 2071,3924 2065,3954 1824,3954"/><text x="1825" y="3912.5">6.乙方为女职工，其孕期、产假和哺乳期的待<tspan x="1825" dy="16">遇按《女职工劳动保护规定》及有关规定执行</tspan><tspan x="1825" dy="16">。</tspan></text></g>
<g id="K16"><polygon points="1818,4010 1824,3980 2065,3980 2071,4010 2065,4040 1824,4040"/><text x="1825" y="3998.5">7.按照国家法律、法规规定，甲乙双方协商确<tspan x="1825" dy="16">定的假日、公休假、婚丧假、探亲假是：___</tspan><tspan x="1825" dy="16">____.</tspan></text></g>
<g id="J16"><polygon points="1660,4414 1666,4400 1837,4400 1843,4414 1837,4428 1666,4428"/><text x="1667" y="4418.5">第七条合同的变更、解除和终止</text></g>
<g id="K17"><polygon points="1867,4096 1873,4066 2113,4066 2119,4096 2113,4126 1873,4126"/><text x="1874" y="4084.5">1.甲方因停产、调整生产任务，或者由于情况<tspan x="1874" dy="16">变化，经甲乙双方协商同意，可以变更合同的</tspan><tspan x="1874" dy="16">相关内容。</tspan></text></g>
<g id="K18"><polygon points="1867,4205 1873,4191 2076,4191 2082,4205 2076,4219 1873,4219"/><text x="1874" y="4209.5">2.在下列情况下，甲方可以解除合同：</text></g>
<g id="L1"><polygon points="2109,4205 2115,4151 2356,4151 2362,4205 2356,4259 2115,4259"/><text x="2116" y="4169.5">(1)乙方在试用期内，经发现不符合用工条件<tspan x="2116" dy="16">的;(2)乙方患病或非因工负伤，医疗期满后不</tspan><tspan x="2116" dy="16">能从事原工作也不能从事甲方另行安排的工作</tspan><tspan x="2116" dy="16">的;(3)甲方歇业，宣告破产，或者濒临破产处</tspan><tspan x="2116" dy="16">于法定整顿期间的;(4)双方约定的其他事项：_</tspan><tspan x="2116" dy="16">______.</tspan></text></g>
<g id="K19"><polygon points="1867,4337 1873,4323 2064,4323 2070,4337 2064,4351 1873,4351"/><text x="1874" y="4341.5">3.下列情况下，乙方可以解除合同：</text></g>
<g id="L2"><polygon points="2097,4337 2103,4283 2344,4283 2350,4337 2344,4391 2103,4391"/><text x="2104" y="4301.5">(1)甲方违反国家规定，无安全防护设施，劳<tspan x="2104" dy="16">动安全、卫生条件恶劣，严重危害乙方身体健</tspan><tspan x="2104" dy="16">康的;(2)甲方无力或不按照合同规定支付乙方</tspan><tspan x="2104" dy="16">劳动报酬的;(3)甲方不履行本合同或者违反国</tspan><tspan x="2104" dy="16">家政策、法规，侵害乙方合法权益的;(4)乙方</tspan><tspan x="2104" dy="16">本人有正当理由要求辞职的。</tspan></text></g>
<g id="K20"><polygon points="1867,4437 1873,4415 2113,4415 2119,4437 2113,4459 1873,4459"/><text x="1874" y="4433.5">4.乙方被劳动教养，以及受刑事处分的，合同<tspan x="1874" dy="16">自行解除。</tspan></text></g>
<g id="K21"><polygon points="1867,4515 1873,4485 2113,4485 2119,4515 2113,4545 1873,4545"/><text x="1874" y="4503.5">5.甲乙双方任何一方解除合同，应当提前30天<tspan x="1874" dy="16">通知对方，并办理解除合同的手续。试用期内</tspan><tspan x="1874" dy="16">应解除合同的，不需要提前通知对方。</tspan></text></g>
<g id="K22"><polygon points="1867,4623 1873,4569 2113,4569 2119,4623 2113,4677 1873,4677"/><text x="1874" y="4587.5">6.在下列情况下，甲方不得解除乙方合同：(1<tspan x="1874" dy="16">)合同期未满，又不符合本第2款规定的;(2)乙</tspan><tspan x="1874" dy="16">方患有职业病或因工负伤并经劳动鉴定委员会</tspan><tspan x="1874" dy="16">确认的;(3)乙方患病或非因工负伤，在规定的</tspan><tspan x="1874" dy="16">医疗期内的;(4)乙方在孕期、产假和哺乳期间</tspan><tspan x="1874" dy="16">的。</tspan></text></g>
<g id="K23"><polygon points="1867,4731 1873,4701 2113,4701 2119,4731 2113,4761 1873,4761"/><text x="1874" y="4719.5">7.合同期限届满，应即终止执行。由于生产、<tspan x="1874" dy="16">工作需要，经甲乙双方协商同意，可以续订合</tspan><tspan x="1874" dy="16">同。</tspan></text></g>
<g id="J17"><polygon points="1660,4983 1666,4969 1837,4969 1843,4983 1837,4997 1666,4997"/><text x="1667" y="4987.5">第八条双方认为需要约定的事项</text></g>
<g id="K24"><polygon points="1867,4802 1873,4788 2057,4788 2063,4802 2057,4816 1873,4816"/><text x="1874" y="4806.5">1.甲方为乙方提供住房或住房补贴;</text></g>
<g id="K25"><polygon points="1867,4871 1873,4841 2113,4841 2119,4871 2113,4901 1873,4901"/><text x="1874" y="4859.5">2.甲方为乙方解决伙食问题;3.甲方按国家规定<tspan x="1874" dy="16">的补贴项目，每月应发给乙方共计_______</tspan><tspan x="1874" dy="16">元;</tspan></text></g>
<g id="K26"><polygon points="1867,4948 1873,4926 2113,4926 2119,4948 2113,4970 1873,4970"/><text x="1874" y="4944.5">4.除国家规定以外，在下列情况下，甲方可以<tspan x="1874" dy="16">解除合同：_______;</tspan></text></g>
<g id="K27"><polygon points="1867,5017 1873,4995 2113,4995 2119,5017 2113,5039 1873,5039"/><text x="1874" y="5013.5">5.除国家规定以外，在下列情况下，乙方可以<tspan x="1874" dy="16">解除合同：_______;</tspan></text></g>
<g id="K28"><polygon points="1867,5095 1873,5065 2113,5065 2119,5095 2113,5125 1873,5125"/><text x="1874" y="5083.5">6.甲方出资培训乙方后，乙方应为甲方服务_<tspan x="1874" dy="16">______年。否则，乙方应向甲方支付培训费_</tspan><tspan x="1874" dy="16">______元;</tspan></text></g>
<g id="K29"><polygon points="1867,5164 1873,5150 2057,5150 2063,5164 2057,5178 1873,5178"/><text x="1874" y="5168.5">7.其他需要约定的事项：______.</text></g>
<g id="J18"><polygon points="1660,5358 1666,5344 1873,5344 1879,5358 1873,5372 1666,5372"/><text x="1667" y="5362.5">第九条违反劳动合同应承担的违约责任</text></g>
<g id="K30"><polygon points="1903,5242 1909,5204 2149,5204 2155,5242 2149,5280 1909,5280"/><text x="1910" y="5222.5">1.由于甲乙双方任何一方的过错造成合同不能<tspan x="1910" dy="16">履行或者不能完全履行由有过错的一方承担法</tspan><tspan x="1910" dy="16">律责任;如属双方过错，由双方分别承担各自</tspan><tspan x="1910" dy="16">应负的法律责任;</tspan></text></g>
<g id="K31"><polygon points="1903,5327 1909,5305 2149,5305 2155,5327 2149,5349 1909,5349"/><text x="1910" y="5323.5">2.因不可抗力造成不能履行合同或者一方受损<tspan x="1910" dy="16">害的，可不承担法律责任;</tspan></text></g>
<g id="K32"><polygon points="1903,5396 1909,5374 2149,5374 2155,5396 2149,5418 1909,5418"/><text x="1910" y="5392.5">3.甲乙双方任何一方违反合同时，应向对方支<tspan x="1910" dy="16">付违约金，违约金标准是：_______;</tspan></text></g>
<g id="K33"><polygon points="1903,5473 1909,5443 2149,5443 2155,5473 2149,5503 1909,5503"/><text x="1910" y="5461.5">4.甲乙双方任何一方违反合同，给对方造成损<tspan x="1910" dy="16">害的，应根据后果和责任向对方支付赔偿金，</tspan><tspan x="1910" dy="16">赔偿标准是：_______.</tspan></text></g>
<g id="J19"><polygon points="1660,5567 1666,5553 1752,5553 1758,5567 1752,5581 1666,5581"/><text x="1667" y="5571.5">第十条劳动争议</text></g>
<g id="K34"><polygon points="1782,5567 1788,5529 2028,5529 2034,5567 2028,5605 1788,5605"/><text x="1789" y="5547.5">劳动争议发生后，当事人可以向本企业调解委<tspan x="1789" dy="16">员会申请调解，调解不成，当事人一方要求仲</tspan><tspan x="1789" dy="16">裁的，可以向劳动争议仲裁委员会申请仲裁裁</tspan><tspan x="1789" dy="16">决不服的，可以向人民法院提起诉讼。</tspan></text></g>
<g id="J20"><polygon points="1660,5660 1666,5630 1909,5630 1915,5660 1909,5690 1666,5690"/><text x="1667" y="5648.5">第十一条本合同未尽事宜或条款与法律、法规<tspan x="1667" dy="16">、政策等有抵触的，按国家现行的法律、法规</tspan><tspan x="1667" dy="16">、政策执行。</tspan></text></g>
<g id="J21"><polygon points="1660,5760 1666,5730 1909,5730 1915,5760 1909,5790 1666,5790"/><text x="1667" y="5748.5">第十二条本合同自签订之日起生效，一式两份<tspan x="1667" dy="16">，甲乙双方各持一份。本合同涂改、未经合法</tspan><tspan x="1667" dy="16">授权代签无效。</tspan></text></g>
<g id="K35"><polygon points="1938,5729 1944,5715 2166,5715 2172,5729 2166,5743 1944,5743"/><text x="1945" y="5733.5">甲方(签章)_______乙方(签章)________</text></g>
<g id="K36"><polygon points="1938,5792 1944,5770 2187,5770 2193,5792 2187,5814 1944,5814"/><text x="1945" y="5788.5">______年___月___日_______年___月___<tspan x="1945" dy="16">日</tspan></text></g>
</g>

<g class="wm">
<text x="650" y="550" transform="rotate(-31 650 515)">树图 shutu.cn</text>
<text x="1920" y="555" transform="rotate(-31 1920 520)">树图 shutu.cn</text>
<text x="650" y="1560" transform="rotate(-31 650 1525)">树图 shutu.cn</text>
<text x="1920" y="1565" transform="rotate(-31 1920 1530)">树图 shutu.cn</text>
<text x="650" y="2550" transform="rotate(-31 650 2515)">树图 shutu.cn</text>
<text x="1920" y="2550" transform="rotate(-31 1920 2515)">树图 shutu.cn</text>
<text x="650" y="3540" transform="rotate(-31 650 3505)">树图 shutu.cn</text>
<text x="1920" y="3545" transform="rotate(-31 1920 3510)">树图 shutu.cn</text>
<text x="650" y="4535" transform="rotate(-31 650 4500)">树图 shutu.cn</text>
<text x="1920" y="4535" transform="rotate(-31 1920 4500)">树图 shutu.cn</text>
<text x="650" y="5550" transform="rotate(-31 650 5515)">树图 shutu.cn</text>
<text x="1920" y="5555" transform="rotate(-31 1920 5520)">树图 shutu.cn</text>
</g>
</g>
</svg>
